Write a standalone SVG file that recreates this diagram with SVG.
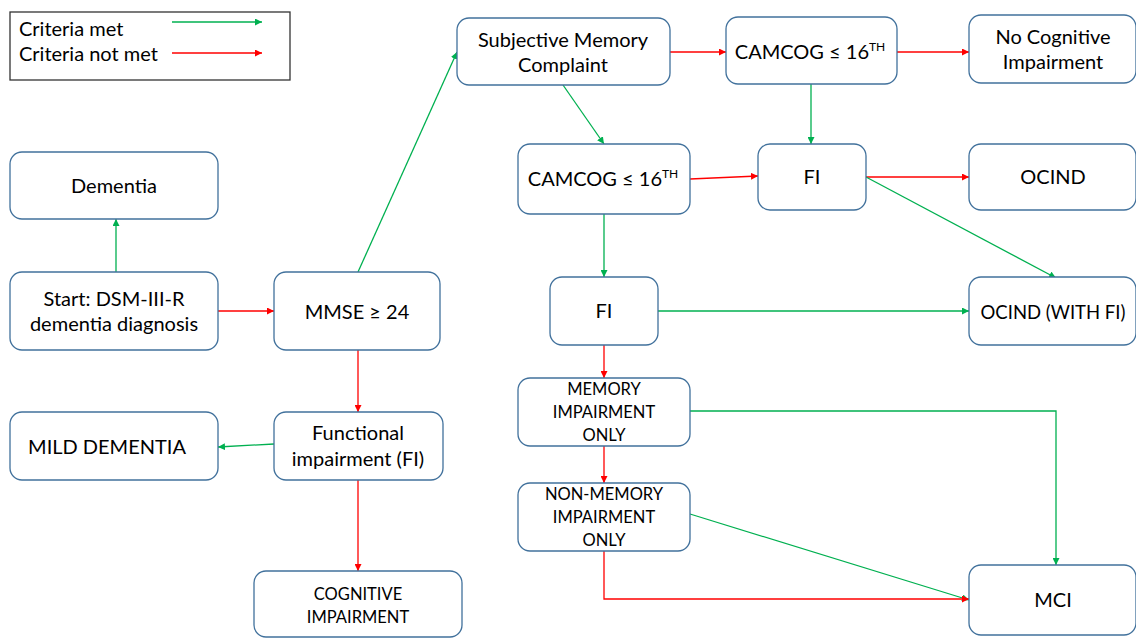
<svg xmlns="http://www.w3.org/2000/svg" width="1136" height="638" viewBox="0 0 1136 638">
<defs>
<marker id="ag" viewBox="0 0 10 10" refX="10" refY="5" markerWidth="7" markerHeight="7" orient="auto" markerUnits="userSpaceOnUse"><path d="M0,0 L10,5 L0,10 z" fill="#00B050"/></marker>
<marker id="ar" viewBox="0 0 10 10" refX="10" refY="5" markerWidth="7" markerHeight="7" orient="auto" markerUnits="userSpaceOnUse"><path d="M0,0 L10,5 L0,10 z" fill="#FF0000"/></marker>
<style>
.box{fill:#fff;stroke:#41719C;stroke-width:1.3}
.t{font-family:Lato,"Open Sans","Liberation Sans",sans-serif;font-size:20px;fill:#000;text-anchor:middle}
.s{font-size:16.5px}
.g{stroke:#00B050;stroke-width:1.3;fill:none;marker-end:url(#ag)}
.r{stroke:#FF0000;stroke-width:1.3;fill:none;marker-end:url(#ar)}
</style>
</defs>
<rect width="1136" height="638" fill="#fff"/>
<g id="legend">
<rect x="10" y="12" width="280" height="68" fill="#fff" stroke="#333" stroke-width="1.3"/>
<text x="19" y="36" class="t" style="text-anchor:start">Criteria met</text>
<text x="19" y="61" class="t" style="text-anchor:start">Criteria not met</text>
<line x1="172" y1="22" x2="262" y2="22" class="g"/>
<line x1="172" y1="53" x2="262" y2="53" class="r"/>
</g>
<g id="connectors">
<line x1="116" y1="272" x2="116" y2="219" class="g"/>
<line x1="218" y1="311" x2="274" y2="311" class="r"/>
<line x1="358" y1="272" x2="457" y2="52" class="g"/>
<line x1="358" y1="350" x2="358" y2="412" class="r"/>
<line x1="274" y1="444" x2="218" y2="447" class="g"/>
<line x1="358" y1="480" x2="358" y2="571" class="r"/>
<line x1="670" y1="52" x2="726" y2="52" class="r"/>
<line x1="897" y1="52" x2="969" y2="52" class="r"/>
<line x1="563" y1="85" x2="604" y2="144" class="g"/>
<line x1="811" y1="84" x2="811" y2="144" class="g"/>
<line x1="690" y1="179" x2="758" y2="176" class="r"/>
<line x1="866" y1="177" x2="969" y2="177" class="r"/>
<line x1="866" y1="177" x2="1056" y2="278" class="g"/>
<line x1="604" y1="214" x2="604" y2="277" class="g"/>
<line x1="658" y1="311" x2="969" y2="311" class="g"/>
<line x1="604" y1="345" x2="604" y2="378" class="r"/>
<polyline points="690,411 1056,411 1056,565" class="g"/>
<line x1="604" y1="446" x2="604" y2="483" class="r"/>
<line x1="690" y1="514" x2="969" y2="600" class="g"/>
<polyline points="604,551 604,599 969,599" class="r"/>
</g>
<g id="dementia"><rect class="box" x="10" y="152" width="208" height="67" rx="12"/><text class="t" x="114" y="193">Dementia</text></g>
<g id="start"><rect class="box" x="10" y="272" width="208" height="78" rx="12"/><text class="t" x="114" y="306">Start: DSM-III-R</text><text class="t" x="114" y="331">dementia diagnosis</text></g>
<g id="mmse"><rect class="box" x="274" y="272" width="166" height="78" rx="12"/><text class="t" x="357" y="319">MMSE ≥ 24</text></g>
<g id="mild"><rect class="box" x="10" y="412" width="208" height="68" rx="12"/><text class="t" x="107" y="454">MILD DEMENTIA</text></g>
<g id="fi1"><rect class="box" x="274" y="412" width="169" height="68" rx="12"/><text class="t" x="358" y="440">Functional</text><text class="t" x="358" y="466">impairment (FI)</text></g>
<g id="cog"><rect class="box" x="254" y="571" width="208" height="66" rx="12"/><text class="t s" x="358" y="600">COGNITIVE</text><text class="t s" x="358" y="623">IMPAIRMENT</text></g>
<g id="smc"><rect class="box" x="457" y="18" width="213" height="67" rx="12"/><text class="t" x="563" y="47">Subjective Memory</text><text class="t" x="563" y="72">Complaint</text></g>
<g id="camcog1"><rect class="box" x="726" y="17" width="171" height="67" rx="12"/><text class="t" x="810" y="59">CAMCOG ≤ 16<tspan font-size="12" dy="-8">TH</tspan></text></g>
<g id="nci"><rect class="box" x="969" y="15" width="167" height="68" rx="12"/><text class="t" x="1053" y="44">No Cognitive</text><text class="t" x="1053" y="69">Impairment</text></g>
<g id="camcog2"><rect class="box" x="518" y="144" width="172" height="70" rx="12"/><text class="t" x="603" y="186">CAMCOG ≤ 16<tspan font-size="12" dy="-8">TH</tspan></text></g>
<g id="fi2"><rect class="box" x="758" y="144" width="108" height="66" rx="12"/><text class="t" x="812" y="184">FI</text></g>
<g id="ocind"><rect class="box" x="969" y="144" width="167" height="66" rx="12"/><text class="t" x="1053" y="184">OCIND</text></g>
<g id="fi3"><rect class="box" x="550" y="277" width="108" height="68" rx="12"/><text class="t" x="604" y="318">FI</text></g>
<g id="ocindfi"><rect class="box" x="969" y="277" width="167" height="68" rx="12"/><text class="t" x="1053" y="319" style="font-size:18.5px">OCIND (WITH FI)</text></g>
<g id="mem"><rect class="box" x="518" y="378" width="172" height="68" rx="12"/><text class="t s" x="604" y="395">MEMORY</text><text class="t s" x="604" y="418">IMPAIRMENT</text><text class="t s" x="604" y="441">ONLY</text></g>
<g id="nonmem"><rect class="box" x="518" y="483" width="172" height="68" rx="12"/><text class="t s" x="604" y="500">NON-MEMORY</text><text class="t s" x="604" y="523">IMPAIRMENT</text><text class="t s" x="604" y="546">ONLY</text></g>
<g id="mci"><rect class="box" x="969" y="565" width="167" height="70" rx="12"/><text class="t" x="1053" y="607">MCI</text></g>
</svg>
